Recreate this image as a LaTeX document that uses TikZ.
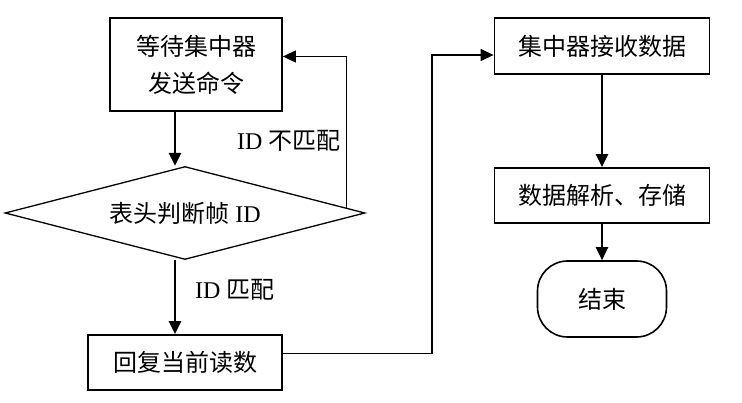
\documentclass[tikz,border=0pt]{standalone}
\usepackage{fontspec}
\setmainfont{Liberation Serif}
\newfontfamily\cjk{Noto Sans CJK SC}
\usetikzlibrary{shapes.geometric,arrows.meta,calc}
\begin{document}
\begin{tikzpicture}[x=1pt,y=-1pt,
  font=\fontsize{24}{37}\selectfont,
  box/.style={draw, line width=1.8pt, inner sep=0pt, align=center},
  dia/.style={draw, diamond, aspect=3.87, line width=1.3pt, inner sep=0pt},
  term/.style={draw, line width=1.6pt, rounded corners=30pt, inner sep=0pt},
  arr/.style={line width=2.4pt, -{Triangle[length=13pt,width=12pt]}},
  thin/.style={line width=1.3pt, -{Triangle[length=13pt,width=12pt]}},
  lbl/.style={inner sep=0pt}]
\useasboundingbox (0,0) rectangle (742,403);
\node[box, minimum width=172pt, minimum height=93pt] (b1) at (196,64.5) {\cjk 等待集中器\\\cjk 发送命令};
\node[dia, minimum width=360pt, minimum height=93pt] (d) at (185,213) {{\cjk 表头判断帧} ID};
\node[box, minimum width=194pt, minimum height=55pt] (b3) at (185,362.5) {\cjk 回复当前读数};
\node[box, minimum width=215pt, minimum height=56pt] (b4) at (602,46) {\cjk 集中器接收数据};
\node[box, minimum width=215pt, minimum height=55pt] (b5) at (602,195.5) {\cjk 数据解析、存储};
\node[term, minimum width=129pt, minimum height=76pt] (e) at (602,299) {\cjk 结束};
\coordinate (col) at (175,0);
\coordinate (fb) at ($(d.east)!0.105!(d.north)$);
\coordinate (mid) at (432,0);
\coordinate (p) at ($(b3.east)+(0,-9)$);
\coordinate (q) at ($(b4.west)+(0,9)$);
\draw[arr] (b1.south -| col) -- (d.north -| col);
\draw[arr] (d.south -| col) -- (b3.north -| col);
\draw[thin] (fb) |- ($(b1.east)+(0,-8)$);
\draw[thin] (p) -- (p -| mid) -- (q -| mid) -- (q);
\draw[arr] (b4.south) -- (b5.north);
\draw[arr] (b5.south) -- (e.north);
\node[lbl, anchor=west] (l1) at (237,141) {ID {\cjk 不匹配}};
\node[lbl, anchor=west] (l2) at (195,290) {ID {\cjk 匹配}};
\end{tikzpicture}
\end{document}
